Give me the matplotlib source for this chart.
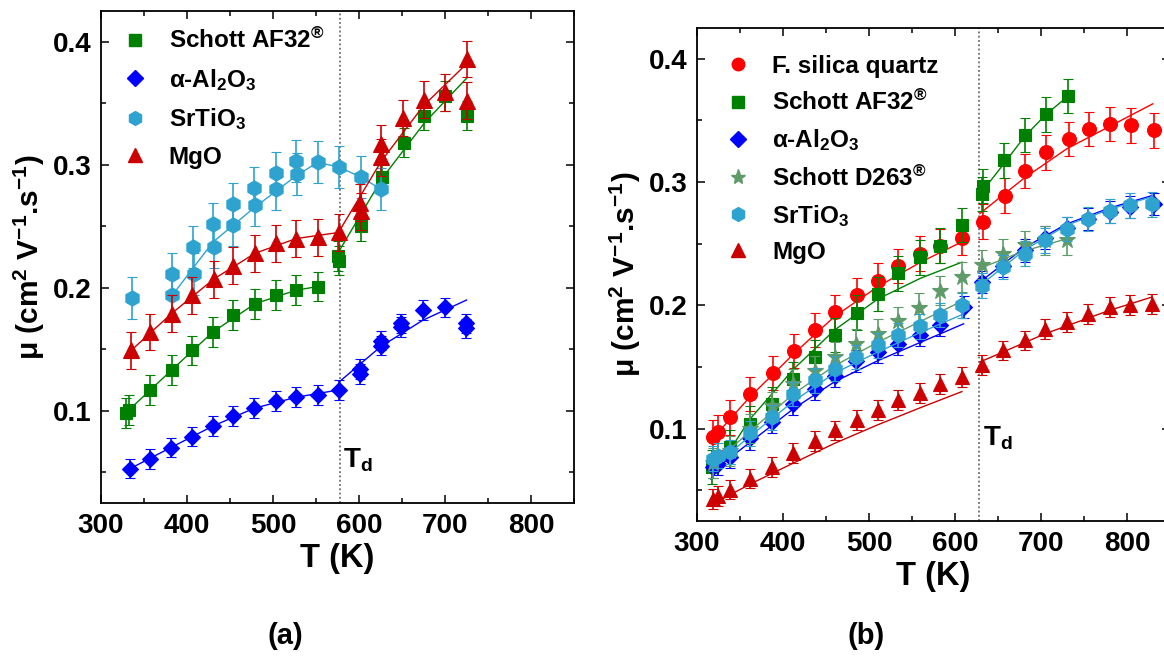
import numpy as np
import matplotlib
matplotlib.use("Agg")
import matplotlib.pyplot as plt
from matplotlib.lines import Line2D
from matplotlib.ticker import MultipleLocator

# ---------------- panel (a) : measured mobility ----------------
a_af32_T = [329, 333, 357, 382, 406, 430, 454, 479, 503, 527, 552, 576, 577, 602, 627, 652, 676, 700, 726]
a_af32_mu = [0.098, 0.1005, 0.117, 0.133, 0.149, 0.164, 0.178, 0.187, 0.194, 0.198, 0.201, 0.226, 0.222,
             0.250, 0.290, 0.318, 0.340, 0.356, 0.340]

a_al2o3_T = [334, 357, 381, 406, 430, 454, 478, 503, 527, 552, 577, 601, 601, 625, 625, 649, 649, 674, 700, 724, 724]
a_al2o3_mu = [0.053, 0.061, 0.070, 0.079, 0.0875, 0.0955, 0.102, 0.108, 0.111, 0.113, 0.117, 0.134, 0.130,
              0.157, 0.153, 0.171, 0.168, 0.182, 0.184, 0.171, 0.167]

a_srtio3_T = [336, 382, 383, 407, 408, 430, 431, 454, 454, 478, 479, 503, 504, 527, 528, 552, 577, 602, 626]
a_srtio3_mu = [0.192, 0.211, 0.194, 0.233, 0.211, 0.252, 0.233, 0.268, 0.251, 0.281, 0.267, 0.293, 0.280,
               0.303, 0.2925, 0.302, 0.298, 0.290, 0.280]

a_mgo_T = [335, 357, 382, 406, 431, 454, 479, 503, 527, 552, 577, 601, 602, 626, 626, 651, 675, 700, 725, 725]
a_mgo_mu = [0.149, 0.164, 0.179, 0.194, 0.207, 0.218, 0.228, 0.236, 0.240, 0.241, 0.245, 0.269, 0.262,
            0.317, 0.306, 0.338, 0.353, 0.359, 0.386, 0.352]

# error bars (cm2/Vs)
a_err = {"af32": 0.012, "al2o3": 0.008, "srtio3": 0.017, "mgo": 0.015}

# fitted trend curves (below / above Td)
a_fit_af32 = ([330, 382, 430, 479, 527, 552], [0.099, 0.133, 0.164, 0.187, 0.198, 0.201],
              [577, 627, 676, 726], [0.230, 0.289, 0.334, 0.371])
a_fit_al2o3 = ([334, 381, 430, 478, 527, 577], [0.053, 0.070, 0.0875, 0.102, 0.111, 0.117],
               [577, 625, 674, 725], [0.1235, 0.152, 0.1735, 0.190])
a_fit_srtio3 = ([383, 430, 478, 527, 552, 577, 602, 626], [0.194, 0.237, 0.265, 0.291, 0.302, 0.298, 0.290, 0.280],
                [], [])
a_fit_mgo = ([335, 382, 431, 479, 527, 577], [0.149, 0.179, 0.207, 0.228, 0.240, 0.245],
             [577, 626, 675, 725], [0.246, 0.303, 0.348, 0.382])
a_Td = 578

# ---------------- panel (b) ----------------
b_fs_T = [319, 324, 338, 362, 388, 413, 437, 460, 486, 510, 534, 559, 583, 608, 633, 658, 681, 706, 732, 756, 780, 805, 831]
b_fs_mu = [0.093, 0.097, 0.109, 0.128, 0.145, 0.163, 0.180, 0.1945, 0.208, 0.220, 0.232, 0.242, 0.248, 0.255,
           0.268, 0.289, 0.309, 0.324, 0.335, 0.343, 0.347, 0.346, 0.342]

b_af32_T = [317, 338, 362, 387, 412, 437, 460, 486, 510, 534, 559, 583, 608, 631, 633, 657, 681, 706, 731]
b_af32_mu = [0.069, 0.085, 0.104, 0.120, 0.140, 0.158, 0.176, 0.194, 0.209, 0.226, 0.239, 0.2485, 0.265,
             0.2905, 0.297, 0.3175, 0.338, 0.355, 0.370]

b_al2o3_T = [319, 324, 338, 362, 387, 412, 437, 460, 485, 510, 534, 559, 583, 610, 631, 656, 681, 705, 730, 755, 780, 804, 831]
b_al2o3_mu = [0.069, 0.071, 0.077, 0.092, 0.105, 0.120, 0.132, 0.143, 0.155, 0.162, 0.169, 0.176, 0.184, 0.1985,
              0.219, 0.232, 0.2445, 0.255, 0.263, 0.270, 0.2756, 0.280, 0.282]

b_d263_T = [319, 338, 362, 387, 412, 437, 460, 485, 510, 534, 558, 583, 608, 631, 656, 681, 705, 730]
b_d263_mu = [0.072, 0.082, 0.100, 0.118, 0.136, 0.147, 0.158, 0.169, 0.177, 0.187, 0.198, 0.212, 0.223,
             0.233, 0.242, 0.2486, 0.2526, 0.2526]

b_srtio3_T = [319, 324, 338, 362, 387, 412, 437, 460, 485, 510, 534, 559, 583, 608, 631, 656, 681, 705, 730, 755, 780, 804, 829]
b_srtio3_mu = [0.0756, 0.078, 0.081, 0.096, 0.109, 0.128, 0.139, 0.1485, 0.158, 0.1675, 0.176, 0.183, 0.192, 0.200,
               0.216, 0.231, 0.242, 0.2526, 0.262, 0.270, 0.2765, 0.281, 0.282]

b_mgo_T = [319, 324, 338, 362, 387, 412, 437, 460, 486, 510, 534, 559, 583, 608, 631, 656, 681, 705, 730, 755, 780, 804, 829]
b_mgo_mu = [0.043, 0.045, 0.0505, 0.0594, 0.069, 0.080, 0.090, 0.0985, 0.107, 0.115, 0.123, 0.129, 0.1364, 0.1418,
            0.1513, 0.1634, 0.1715, 0.181, 0.1864, 0.1932, 0.1986, 0.200, 0.201]

b_err = {"fs": 0.014, "af32": 0.014, "al2o3": 0.009, "d263": 0.012, "srtio3": 0.010, "mgo": 0.008}

b_fit_fs = ([317, 362, 413, 460, 510, 560, 608], [0.091, 0.126, 0.161, 0.191, 0.215, 0.235, 0.2515],
            [629, 680, 730, 830], [0.2745, 0.303, 0.327, 0.3635])
b_fit_af32 = ([316, 362, 412, 460, 510, 560, 608], [0.059, 0.108, 0.148, 0.180, 0.205, 0.222, 0.235],
              [629, 657, 681, 706, 732], [0.290, 0.315, 0.337, 0.355, 0.370])
b_fit_al2o3 = ([317, 362, 412, 460, 510, 560, 610], [0.065, 0.089, 0.116, 0.138, 0.155, 0.170, 0.185],
               [631, 681, 730, 780, 829], [0.220, 0.247, 0.266, 0.279, 0.289])
b_fit_d263 = ([317, 362, 412, 460, 510, 560, 610], [0.070, 0.098, 0.128, 0.151, 0.170, 0.187, 0.204],
              [629, 680, 730], [0.230, 0.244, 0.254])
b_fit_srtio3 = ([317, 362, 412, 460, 510, 560, 610], [0.068, 0.094, 0.122, 0.145, 0.162, 0.178, 0.193],
                [631, 681, 730, 780, 829], [0.217, 0.245, 0.265, 0.278, 0.288])
b_fit_mgo = ([319, 362, 412, 460, 510, 560, 608], [0.039, 0.055, 0.072, 0.088, 0.103, 0.117, 0.130],
             [629, 705, 780, 829], [0.154, 0.177, 0.196, 0.2067])
b_Td = 628

# axis ticks
x_ticks = [300, 400, 500, 600, 700, 800]
y_ticks = [0.1, 0.2, 0.3, 0.4]
y_tick_labels = ["0.1", "0.2", "0.3", "0.4"]

# ---------------- styling ----------------
plt.rcParams.update({
    "font.family": ["Liberation Sans", "DejaVu Sans"],
    "font.weight": "bold",
    "axes.labelweight": "bold",
    "font.size": 17,
    "mathtext.fontset": "custom",
    "mathtext.rm": "Liberation Sans:bold",
    "mathtext.bf": "Liberation Sans:bold",
    "mathtext.it": "Liberation Sans:bold",
    "mathtext.default": "bf",
    "axes.linewidth": 1.3,
    "xtick.direction": "in",
    "ytick.direction": "in",
    "xtick.top": True,
    "ytick.right": True,
    "xtick.major.size": 6, "ytick.major.size": 6,
    "xtick.minor.size": 3.5, "ytick.minor.size": 3.5,
    "xtick.major.width": 1.1, "ytick.major.width": 1.1,
    "xtick.minor.width": 1.1, "ytick.minor.width": 1.1,
    "xtick.major.pad": 7, "ytick.major.pad": 7,
})

GREEN = "#008000"
BLUE = "#0000FF"
CYAN = "#2EA3D0"
DRED = "#CC0000"
RED = "#FF0000"
SAGE = "#5F9A69"
TICK_FS = 20

W, H = 1164, 659
fig = plt.figure(figsize=(W / 100, H / 100), dpi=100)
axA = fig.add_axes([101 / W, (H - 503) / H, 473 / W, 492 / H])
axB = fig.add_axes([697 / W, (H - 521) / H, 473 / W, 493 / H])


def series(ax, T, mu, err, color, marker, ms, fit, z):
    ax.errorbar(T, mu, yerr=err, fmt=marker, color=color, ms=ms, mec=color, mew=0.8,
                ecolor=color, elinewidth=1.2, capsize=3.5, capthick=1.2, zorder=z)
    pre_T, pre_mu, post_T, post_mu = fit
    if pre_T:
        ax.plot(pre_T, pre_mu, "-", color=color, lw=1.0, zorder=z + 0.5)
    if post_T:
        ax.plot(post_T, post_mu, "-", color=color, lw=1.0, zorder=z + 0.5)


def frame(ax, Td, td_label_xy):
    ax.set_xlim(300, 850)
    ax.set_ylim(0.025, 0.425)
    ax.set_xticks(x_ticks, [str(t) for t in x_ticks], fontsize=TICK_FS, fontweight="bold")
    ax.set_yticks(y_ticks, y_tick_labels, fontsize=TICK_FS, fontweight="bold")
    ax.xaxis.set_minor_locator(MultipleLocator(50))
    ax.yaxis.set_minor_locator(MultipleLocator(0.05))
    ax.axvline(Td, color="#555555", ls=(0, (1.2, 1.6)), lw=1.1, zorder=1)
    ax.text(td_label_xy[0], td_label_xy[1], r"T$_\mathbf{d}$", fontsize=20, ha="left", va="baseline")
    ax.set_xlabel("T (K)", fontsize=23.5, fontweight="bold", labelpad=3)
    ax.set_ylabel(r"$\mu$ (cm$^2$ V$^{-1}$.s$^{-1}$)", fontsize=21.5, fontweight="bold")
    ax.yaxis.set_label_coords(-0.114, 0.5)


# panel (a)
series(axA, a_af32_T, a_af32_mu, a_err["af32"], GREEN, "s", 9, a_fit_af32, 3)
series(axA, a_al2o3_T, a_al2o3_mu, a_err["al2o3"], BLUE, "D", 8.5, a_fit_al2o3, 4)
series(axA, a_srtio3_T, a_srtio3_mu, a_err["srtio3"], CYAN, "h", 11, a_fit_srtio3, 5)
series(axA, a_mgo_T, a_mgo_mu, a_err["mgo"], DRED, "^", 11, a_fit_mgo, 6)
frame(axA, a_Td, (581, 0.054))

# panel (b)
series(axB, b_fs_T, b_fs_mu, b_err["fs"], RED, "o", 10, b_fit_fs, 3)
series(axB, b_af32_T, b_af32_mu, b_err["af32"], GREEN, "s", 9, b_fit_af32, 4)
series(axB, b_al2o3_T, b_al2o3_mu, b_err["al2o3"], BLUE, "D", 8.5, b_fit_al2o3, 5)
series(axB, b_d263_T, b_d263_mu, b_err["d263"], SAGE, "*", 12, b_fit_d263, 6)
series(axB, b_srtio3_T, b_srtio3_mu, b_err["srtio3"], CYAN, "h", 11, b_fit_srtio3, 7)
series(axB, b_mgo_T, b_mgo_mu, b_err["mgo"], DRED, "^", 10.5, b_fit_mgo, 8)
frame(axB, b_Td, (633, 0.086))


def handle(color, marker, ms):
    return Line2D([], [], ls="none", marker=marker, color=color, mec=color, ms=ms)


labels_af32 = r"Schott AF32$^{®}$"
labels_al = r"$\alpha$-Al$_2$O$_3$"
labels_sr = r"SrTiO$_3$"
labels_mg = "MgO"

axA.legend([handle(GREEN, "s", 8), handle(BLUE, "D", 8), handle(CYAN, "h", 10), handle(DRED, "^", 10)],
           [labels_af32, labels_al, labels_sr, labels_mg],
           loc="upper left", bbox_to_anchor=(0.015, 0.995), frameon=False, fontsize=17.5,
           handlelength=1.0, handletextpad=0.9, labelspacing=0.56, borderaxespad=0.2)

axB.legend([handle(RED, "o", 9), handle(GREEN, "s", 8), handle(BLUE, "D", 8), handle(SAGE, "*", 11),
            handle(CYAN, "h", 10), handle(DRED, "^", 10)],
           ["F. silica quartz", labels_af32, labels_al, r"Schott D263$^{®}$", labels_sr, labels_mg],
           loc="upper left", bbox_to_anchor=(0.03, 0.975), frameon=False, fontsize=17.5,
           handlelength=1.0, handletextpad=0.9, labelspacing=0.5, borderaxespad=0.2)

fig.text(285 / W, 1 - 636 / H, "(a)", fontsize=21, fontweight="bold", ha="center", va="center")
fig.text(866 / W, 1 - 636 / H, "(b)", fontsize=21, fontweight="bold", ha="center", va="center")

fig.savefig("out.png", dpi=100)
